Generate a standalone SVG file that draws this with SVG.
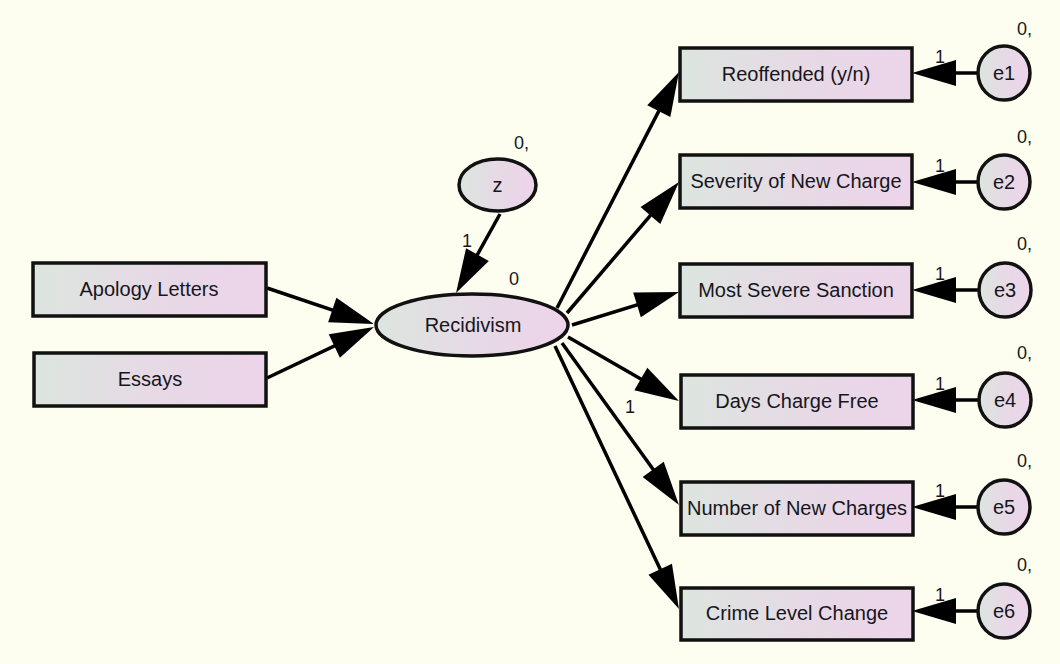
<svg xmlns="http://www.w3.org/2000/svg" width="1060" height="664" viewBox="0 0 1060 664">
  <defs>
    <linearGradient id="fillGrad" x1="0" y1="0" x2="1" y2="0">
      <stop offset="0" stop-color="#dce5df"/>
      <stop offset="0.55" stop-color="#e7d9e6"/>
      <stop offset="1" stop-color="#edd4ea"/>
    </linearGradient>
    <marker id="arrow" markerUnits="userSpaceOnUse" markerWidth="44" markerHeight="26" refX="34" refY="13" orient="auto" overflow="visible">
      <path d="M0,0 L44,13 L0,26 Z" fill="#000"/>
    </marker>
    <style>
      .box { fill: url(#fillGrad); stroke: #111; stroke-width: 3.5; }
      .oval { fill: url(#fillGrad); stroke: #111; stroke-width: 3.5; }
      .lbl { font-family: "Liberation Sans", Arial, sans-serif; font-size: 20px; fill: #161620; text-anchor: middle; }
      .num { font-family: "Liberation Sans", Arial, sans-serif; font-size: 18px; fill: #161620; }
      .path { stroke: #000; stroke-width: 3.5; fill: none; marker-end: url(#arrow); }
    </style>
  </defs>

  <rect x="0" y="0" width="1060" height="664" fill="#fefef0"/>

  <!-- paths -->
  <g id="connectors">
    <line class="path" x1="267" y1="288" x2="364.5" y2="320.8"/>
    <line class="path" x1="267" y1="378" x2="365" y2="331.3"/>
    <line class="path" x1="500" y1="214" x2="460.9" y2="284.3"/>
    <line class="path" x1="557" y1="308" x2="674.4" y2="80.9"/>
    <line class="path" x1="567" y1="313" x2="672.5" y2="189.6"/>
    <line class="path" x1="572" y1="325" x2="669.5" y2="294.9"/>
    <line class="path" x1="568" y1="337" x2="670.3" y2="396"/>
    <line class="path" x1="562" y1="343" x2="673.1" y2="496.9"/>
    <line class="path" x1="555" y1="346" x2="674.7" y2="600"/>
    <line class="path" x1="978" y1="73" x2="922" y2="73"/>
    <line class="path" x1="978" y1="182" x2="922" y2="182"/>
    <line class="path" x1="978" y1="290" x2="922" y2="290"/>
    <line class="path" x1="978" y1="400" x2="922" y2="400"/>
    <line class="path" x1="978" y1="507" x2="922" y2="507"/>
    <line class="path" x1="978" y1="611" x2="922" y2="611"/>
  </g>

  <!-- path coefficients -->
  <g id="weights">
    <text class="num" x="467" y="247" text-anchor="middle">1</text>
    <text class="num" x="630" y="413" text-anchor="middle">1</text>
    <text class="num" x="940" y="63" text-anchor="middle">1</text>
    <text class="num" x="940" y="172" text-anchor="middle">1</text>
    <text class="num" x="940" y="280" text-anchor="middle">1</text>
    <text class="num" x="940" y="390" text-anchor="middle">1</text>
    <text class="num" x="940" y="497" text-anchor="middle">1</text>
    <text class="num" x="940" y="601" text-anchor="middle">1</text>
  </g>

  <!-- observed predictors -->
  <g id="apology-letters">
    <rect class="box" x="33" y="263" width="233" height="53"/>
    <text class="lbl" x="149" y="296">Apology Letters</text>
  </g>
  <g id="essays">
    <rect class="box" x="34" y="353" width="232" height="53"/>
    <text class="lbl" x="150" y="386">Essays</text>
  </g>

  <!-- latent outcome and its disturbance -->
  <g id="recidivism">
    <ellipse class="oval" cx="472" cy="325" rx="96" ry="31"/>
    <text class="lbl" x="473" y="332">Recidivism</text>
    <text class="num" x="514" y="285" text-anchor="middle">0</text>
  </g>
  <g id="z">
    <ellipse class="oval" cx="497.5" cy="185" rx="38.5" ry="26"/>
    <text class="lbl" x="497.5" y="192">z</text>
    <text class="num" x="514" y="149">0,</text>
  </g>

  <!-- indicators -->
  <g id="reoffended">
    <rect class="box" x="680" y="48" width="232" height="53"/>
    <text class="lbl" x="796" y="81">Reoffended (y/n)</text>
  </g>
  <g id="severity">
    <rect class="box" x="680" y="155" width="232" height="53"/>
    <text class="lbl" x="796" y="188">Severity of New Charge</text>
  </g>
  <g id="most-severe-sanction">
    <rect class="box" x="680" y="264" width="232" height="53"/>
    <text class="lbl" x="796" y="297">Most Severe Sanction</text>
  </g>
  <g id="days-charge-free">
    <rect class="box" x="681" y="375" width="232" height="53"/>
    <text class="lbl" x="797" y="408">Days Charge Free</text>
  </g>
  <g id="number-of-new-charges">
    <rect class="box" x="681" y="482" width="232" height="53"/>
    <text class="lbl" x="797" y="515">Number of New Charges</text>
  </g>
  <g id="crime-level-change">
    <rect class="box" x="681" y="588" width="232" height="52"/>
    <text class="lbl" x="797" y="620">Crime Level Change</text>
  </g>

  <!-- error terms -->
  <g id="e1">
    <ellipse class="oval" cx="1004" cy="73" rx="26" ry="27"/>
    <text class="lbl" x="1004" y="80">e1</text>
    <text class="num" x="1017" y="35">0,</text>
  </g>
  <g id="e2">
    <ellipse class="oval" cx="1004" cy="182" rx="26" ry="27"/>
    <text class="lbl" x="1004" y="189">e2</text>
    <text class="num" x="1017" y="143">0,</text>
  </g>
  <g id="e3">
    <ellipse class="oval" cx="1005" cy="290" rx="26" ry="27"/>
    <text class="lbl" x="1005" y="297">e3</text>
    <text class="num" x="1017" y="250">0,</text>
  </g>
  <g id="e4">
    <ellipse class="oval" cx="1005" cy="400" rx="26" ry="27"/>
    <text class="lbl" x="1005" y="407">e4</text>
    <text class="num" x="1017" y="359">0,</text>
  </g>
  <g id="e5">
    <ellipse class="oval" cx="1004" cy="507" rx="26" ry="27"/>
    <text class="lbl" x="1004" y="514">e5</text>
    <text class="num" x="1017" y="467">0,</text>
  </g>
  <g id="e6">
    <ellipse class="oval" cx="1004" cy="611" rx="26" ry="27"/>
    <text class="lbl" x="1004" y="618">e6</text>
    <text class="num" x="1017" y="571">0,</text>
  </g>
</svg>
